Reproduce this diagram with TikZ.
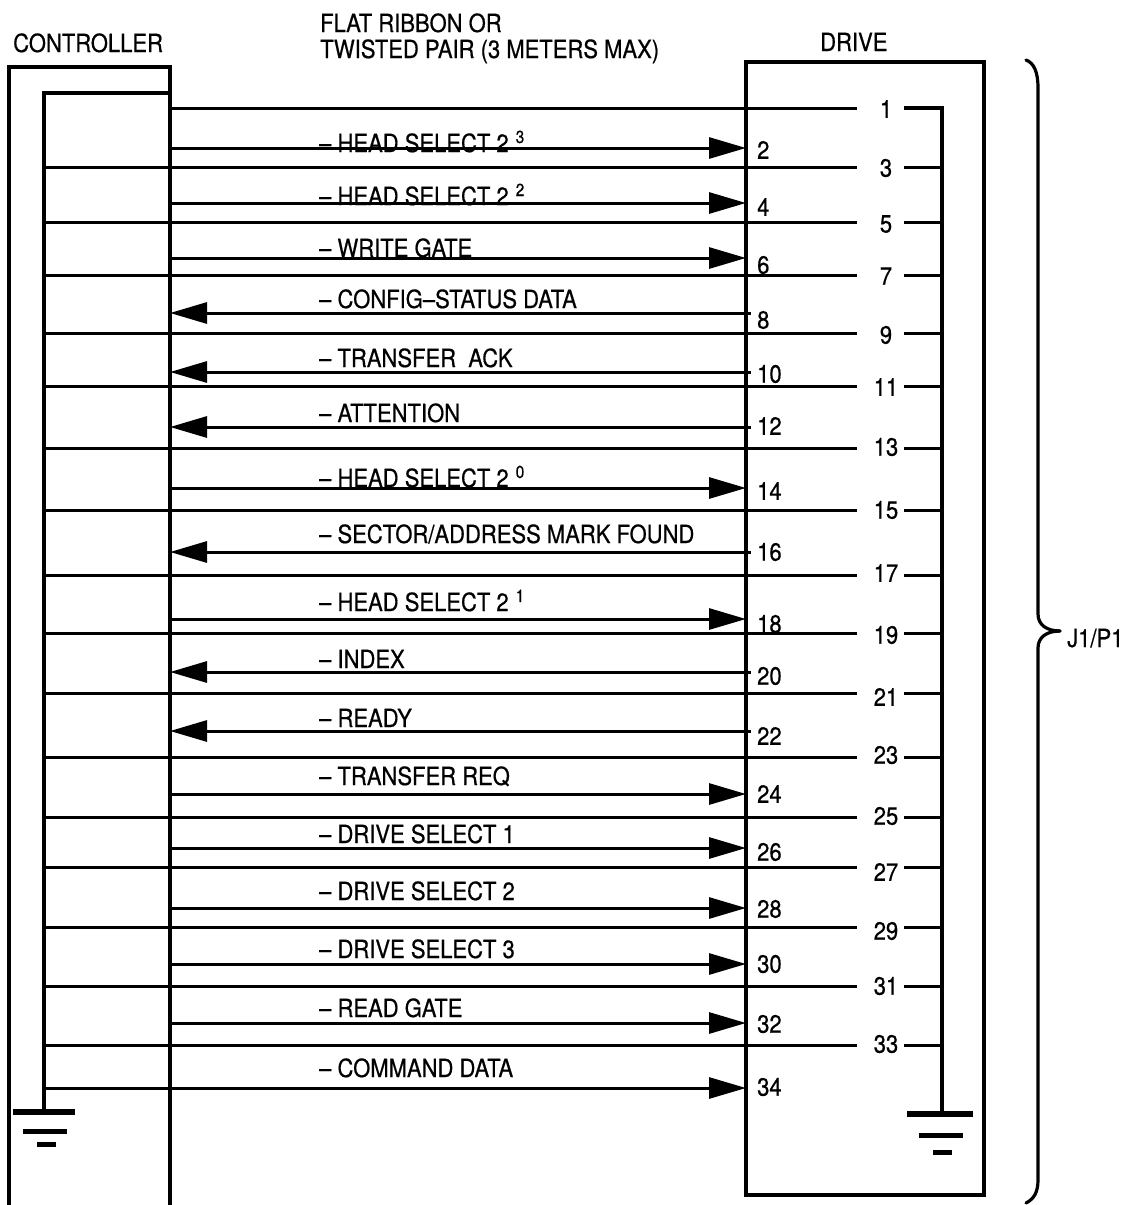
\documentclass[tikz,border=0pt]{standalone}
\usepackage{fontspec}
\setmainfont{TeX Gyre Heros}[FakeStretch=0.88,FakeBold=0.6]
\usetikzlibrary{arrows.meta}
\newcommand\supnum[1]{\hspace{7pt}\raisebox{9pt}{\fontsize{17.5}{17.5}\selectfont #1}}
\tikzset{
  wire/.style={line width=3pt},
  boxedge/.style={line width=3.2pt},
  gbar/.style={line width=5.5pt},
  txt/.style={font=\fontsize{25}{30}\selectfont, inner sep=0pt, anchor=base west},
  pinnum/.style={font=\fontsize{25}{30}\selectfont, inner sep=0pt},
  sigR/.style={-{Triangle[length=37pt,width=21pt]}},
  sigL/.style={{Triangle[length=37pt,width=21pt]}-, shorten >=-5pt},
  bracestyle/.style={line width=3.2pt, line cap=round},
}
% #1 pin, #2 line y, #3 number y, #4 text baseline, #5 arrow style, #6 start x, #7 text
\newcommand\sigrow[7]{%
  \node[pinnum,anchor=west] (p#1) at (757,#3) {#1};
  \node[txt] (s#1) at (319,#4) {#7};
  \coordinate (a#1) at (#6,#2);
  \coordinate (b#1) at (746,#2);
  \draw[wire,#5] (a#1) -- (b#1);
}
% #1 pin, #2 line y, #3 number y, #4 start x
\newcommand\gndrow[4]{%
  \node[pinnum] (p#1) at (886,#3) {#1};
  \coordinate (g#1) at (#4,#2);
  \coordinate (h#1) at (857,#2);
  \coordinate (k#1) at (904,#2);
  \coordinate (m#1) at (942,#2);
  \draw[wire] (g#1) -- (h#1);
  \draw[wire] (k#1) -- (m#1);
}
\begin{document}
\begin{tikzpicture}[x=1pt,y=-1pt]
\useasboundingbox (0,0) rectangle (1129,1205);
% headers
\node[txt] (hctrl) at (13,52) {CONTROLLER};
\node[txt] (hflat) at (320,32) {FLAT RIBBON OR};
\node[txt] (htw) at (320,58) {TWISTED PAIR (3 METERS MAX)};
\node[txt] (hdrv) at (820,51) {DRIVE};
% controller box (open at bottom)
\draw[boxedge] (9,1206) -- (9,67) -- (170,67) -- (170,1206);
% drive box
\draw[boxedge] (746,62) rectangle (984,1195);
% left ground bus
\coordinate (lbtop) at (170,93);
\coordinate (lbcorner) at (44,93);
\coordinate (lbbot) at (44,1112);
\draw[boxedge] (lbtop) -- (lbcorner) -- (lbbot);
\draw[gbar, line width=6pt] (13,1112) -- (75,1112);
\draw[gbar, line width=5pt] (23,1131) -- (67,1131);
\draw[gbar, line width=5pt] (37,1144) -- (56,1144);
% right ground bus
\coordinate (rbtop) at (942,108);
\coordinate (rbbot) at (942,1114);
\draw[gbar, line width=6pt] (907,1114) -- (973,1114);
\draw[gbar, line width=5pt] (919,1135) -- (963,1135);
\draw[gbar, line width=5pt] (933,1152) -- (952,1152);
% ground (odd) pins
\gndrow{1}{108}{109}{170}
\gndrow{3}{167}{168}{44}
\gndrow{5}{222}{224}{44}
\gndrow{7}{275}{276}{44}
\gndrow{9}{333}{335}{44}
\gndrow{11}{386}{387}{44}
\gndrow{13}{448}{447}{44}
\gndrow{15}{510}{510}{44}
\gndrow{17}{575}{573}{44}
\gndrow{19}{633}{635}{44}
\gndrow{21}{693}{697}{44}
\gndrow{23}{757}{755}{44}
\gndrow{25}{817}{816}{44}
\gndrow{27}{867}{872}{44}
\gndrow{29}{927}{931}{44}
\gndrow{31}{986}{986}{44}
\gndrow{33}{1045}{1044}{44}
\draw[boxedge] (k1) -- (rbtop) -- (rbbot);
% signal (even) pins
\sigrow{2}{148}{150}{152}{sigR}{170}{– HEAD SELECT 2\supnum{3}}
\sigrow{4}{203}{207}{205}{sigR}{170}{– HEAD SELECT 2\supnum{2}}
\sigrow{6}{258}{265}{257}{sigR}{170}{– WRITE GATE}
\sigrow{8}{313}{320}{308}{sigL}{170}{– CONFIG–STATUS DATA}
\sigrow{10}{372}{374}{367}{sigL}{170}{– TRANSFER\ \ ACK}
\sigrow{12}{427}{426}{422}{sigL}{170}{– ATTENTION}
\sigrow{14}{488}{491}{487}{sigR}{170}{– HEAD SELECT 2\supnum{0}}
\sigrow{16}{552}{552}{543}{sigL}{170}{– SECTOR/ADDRESS MARK FOUND}
\sigrow{18}{619}{624}{611}{sigR}{170}{– HEAD SELECT 2\supnum{1}}
\sigrow{20}{672}{676}{668}{sigL}{170}{– INDEX}
\sigrow{22}{731}{736}{727}{sigL}{170}{– READY}
\sigrow{24}{794}{794}{785}{sigR}{170}{– TRANSFER REQ}
\sigrow{26}{848}{852}{843}{sigR}{170}{– DRIVE SELECT 1}
\sigrow{28}{908}{909}{900}{sigR}{170}{– DRIVE SELECT 2}
\sigrow{30}{964}{964}{958}{sigR}{170}{– DRIVE SELECT 3}
\sigrow{32}{1023}{1024}{1017}{sigR}{170}{– READ GATE}
\sigrow{34}{1088}{1087}{1077}{sigR}{44}{– COMMAND DATA}
% brace
\coordinate (btip) at (1060,631);
\draw[bracestyle] (1026,60) .. controls (1034,63) and (1038,72) .. (1038,88) -- (1038,614) .. controls (1038,625) and (1047,631) .. (btip);
\draw[bracestyle] (btip) .. controls (1047,631) and (1038,637) .. (1038,648) -- (1038,1180) .. controls (1038,1192) and (1034,1199) .. (1026,1203);
\node[txt] (jp) at (1067,647) {J1/P1};
\end{tikzpicture}
\end{document}
